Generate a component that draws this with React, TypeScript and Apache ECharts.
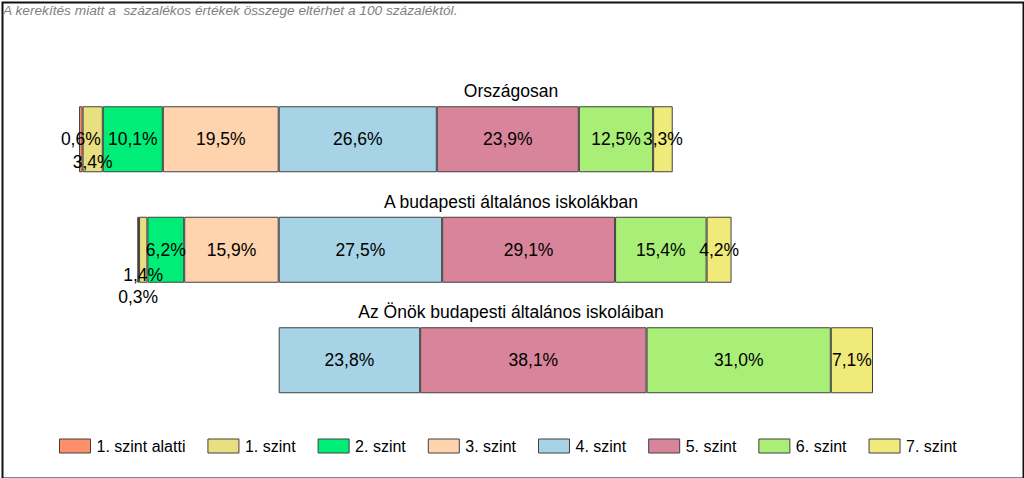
import React, { useEffect, useRef } from "react";
import * as echarts from "echarts";

const categories = ["Országosan", "A budapesti általános iskolákban", "Az Önök budapesti általános iskoláiban"];
const levelNames = ["1. szint alatti", "1. szint", "2. szint", "3. szint", "4. szint", "5. szint", "6. szint", "7. szint"];
const levelColors = ["#FF8F6B", "#E8E080", "#00EE77", "#FFD3AD", "#A6D3E5", "#D8849A", "#A9EE77", "#F0EA7A"];

// values per level, one entry per category
const below1 = [0.6, 0.3, null];
const level1 = [3.4, 1.4, null];
const level2 = [10.1, 6.2, null];
const level3 = [19.5, 15.9, null];
const level4 = [26.6, 27.5, 23.8];
const level5 = [23.9, 29.1, 38.1];
const level6 = [12.5, 15.4, 31.0];
const level7 = [3.3, 4.2, 7.1];

const note = "A kerekítés miatt a  százalékos értékek összege eltérhet a 100 százaléktól.";

const FONT = "'Liberation Sans', Arial, sans-serif";

export default function App() {
  const ref = useRef<HTMLDivElement>(null);

  useEffect(() => {
    document.body.style.margin = "0";
    const chart = echarts.init(ref.current!, null, { renderer: "svg" });

    const fmt = (v: number | null) =>
      v === null || v === undefined || v === 0 ? "" : Math.abs(v).toFixed(1).replace(".", ",") + "%";

    // label offsets for tiny segments (level index -> category index -> offset)
    const offsets: Record<number, Record<number, number[]>> = {
      1: { 0: [0, 23], 1: [0, 25] },
      0: { 1: [0, 47] },
    };

    const all = [below1, level1, level2, level3, level4, level5, level6, level7];
    // stacking order: negatives from 3. szint outward, then positives
    const order = [3, 2, 1, 0, 4, 5, 6, 7];

    const series = order.map((li) => {
      const neg = li < 4;
      const data = all[li].map((v, ci) => {
        const value = v === null ? null : neg ? -v : v;
        const off = offsets[li] && offsets[li][ci];
        const item: any = { value };
        if (off) item.label = { offset: off };
        return item;
      });
      return {
        name: levelNames[li],
        type: "bar",
        stack: "total",
        barWidth: 66,
        itemStyle: { color: levelColors[li], borderColor: "#404040", borderWidth: 1 },
        label: {
          show: true,
          position: "inside",
          color: "#000",
          fontSize: 17.5,
          fontFamily: FONT,
          formatter: (p: any) => fmt(p.value),
        },
        data,
      };
    });

    const gridTop = 84;
    const band = 110.5;

    chart.setOption({
      animation: false,
      textStyle: { fontFamily: FONT },
      grid: { left: 41, right: 151, top: gridTop, height: band * 3, containLabel: false },
      xAxis: { type: "value", min: -40, max: 100, show: false },
      yAxis: { type: "category", data: categories, inverse: true, show: false },
      legend: {
        data: levelNames,
        top: 438,
        left: 59,
        padding: 0,
        itemWidth: 31,
        itemHeight: 14,
        itemGap: 22,
        icon: "rect",
        itemStyle: { borderColor: "#404040", borderWidth: 1 },
        textStyle: { fontSize: 16, color: "#000", fontFamily: FONT, padding: [0, 0, 0, 1] },
      },
      graphic: [
        {
          type: "rect",
          left: 0,
          top: 0,
          shape: { width: 1021, height: 476 },
          style: { fill: "none", stroke: "#111", lineWidth: 2 },
          silent: true,
        },
        {
          type: "text",
          left: 3,
          top: 3,
          style: { text: note, fontSize: 13.7, fontStyle: "italic", fill: "#7f7f7f", fontFamily: FONT },
        },
        ...categories.map((c, i) => ({
          type: "text",
          x: 511,
          y: gridTop + band * i + 7,
          style: {
            text: c,
            fontSize: 17.5,
            fill: "#000",
            fontFamily: FONT,
            textAlign: "center",
            textVerticalAlign: "middle",
          },
        })),
      ],
      series,
    });

    return () => chart.dispose();
  }, []);

  return <div ref={ref} style={{ width: 1024, height: 478 }} />;
}
